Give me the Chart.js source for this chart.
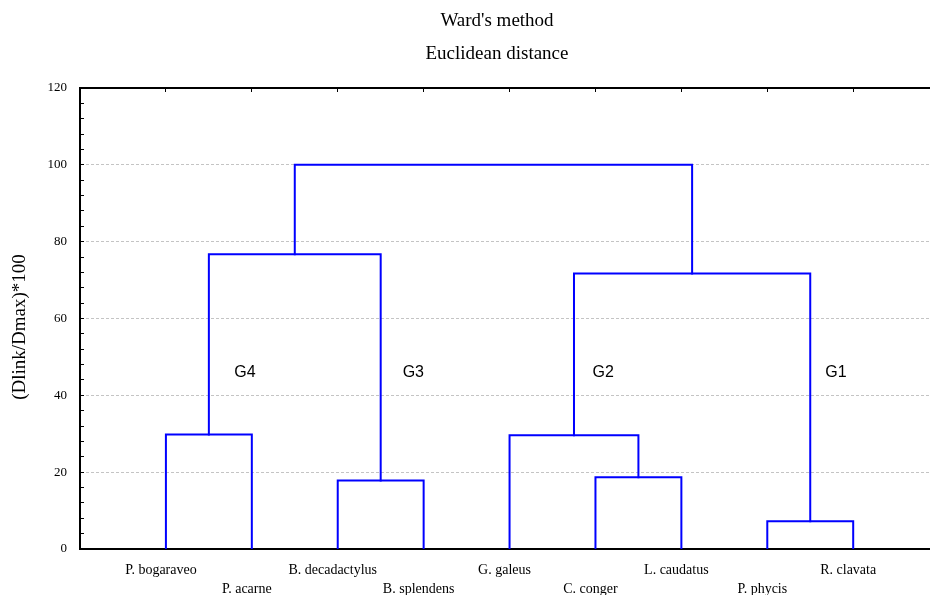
<!DOCTYPE html>
<html><head><meta charset="utf-8">
<script src="https://cdn.jsdelivr.net/npm/chart.js@4.4.1/dist/chart.umd.min.js"></script>
<style>html,body{margin:0;padding:0;background:#fff;}#wrap{width:930px;height:595px;}</style>
</head><body><div id="wrap"><canvas id="c" width="930" height="595"></canvas></div>
<script>
// ---- data ----
const leafLabels = ['P. bogaraveo','P. acarne','B. decadactylus','B. splendens','G. galeus','C. conger','L. caudatus','P. phycis','R. clavata'];
// node ids: 0..8 are leaves, 9.. are merges in this order
const mergeLeft   = [0, 2, 5, 4, 7, 9, 12, 14];
const mergeRight  = [1, 3, 6, 11, 8, 10, 13, 15];
const mergeHeight = [29.8, 17.8, 18.7, 29.6, 7.2, 76.7, 71.7, 100];
const groupNames = ['G4','G3','G2','G1'];
const groupX = [1.92, 3.88, 6.09, 8.80];
const groupY = [46, 46, 46, 46];
const yMajorTicks = [0, 20, 40, 60, 80, 100, 120];
const yMinorStep = 4;
const titleLines = ["Ward's method", 'Euclidean distance'];
const yAxisTitle = '(Dlink/Dmax)*100';

// ---- build dendrogram segments ----
const nLeaf = leafLabels.length;
const pos = [], hgt = [];
for (let i = 0; i < nLeaf; i++) { pos.push(i + 1); hgt.push(0); }
const datasets = [];
mergeHeight.forEach((h, k) => {
  const l = mergeLeft[k], r = mergeRight[k];
  const pl = pos[l], pr = pos[r];
  datasets.push({
    data: [{x: pl, y: hgt[l]}, {x: pl, y: h}, {x: pr, y: h}, {x: pr, y: hgt[r]}],
    borderColor: '#0000ff', borderWidth: 2, pointRadius: 0, tension: 0, fill: false,
    borderCapStyle: 'square', borderJoinStyle: 'miter'
  });
  pos.push((pl + pr) / 2); hgt.push(h);
});

const leafTicks = s => { s.ticks = leafLabels.map((_, i) => ({value: i + 1})); };

const textPlugin = {
  id: 'texts',
  afterDraw(chart) {
    const ctx = chart.ctx, xs = chart.scales.x, ys = chart.scales.y;
    ctx.save();
    ctx.fillStyle = '#000';
    ctx.textAlign = 'center';
    ctx.textBaseline = 'middle';
    ctx.font = '19px "Liberation Serif"';
    ctx.fillText(titleLines[0], 497, 21);
    ctx.fillText(titleLines[1], 497, 54);
    ctx.font = '16px "Liberation Sans"';
    groupNames.forEach((g, i) => {
      ctx.fillText(g, xs.getPixelForValue(groupX[i]), ys.getPixelForValue(groupY[i]));
    });
    ctx.font = '19px "Liberation Serif"';
    ctx.translate(20, 327);
    ctx.rotate(-Math.PI / 2);
    ctx.fillText(yAxisTitle, 0, 0);
    ctx.restore();
  }
};

new Chart(document.getElementById('c'), {
  type: 'line',
  data: { datasets },
  plugins: [textPlugin],
  options: {
    responsive: false, animation: false, devicePixelRatio: 1,
    layout: { padding: { top: 88, right: 0, left: 0, bottom: 0 } },
    plugins: { legend: { display: false }, tooltip: { enabled: false }, title: { display: false } },
    scales: {
      x: {
        type: 'linear', position: 'bottom', min: 0, max: 9.894,
        afterBuildTicks: leafTicks,
        afterFit: s => { s.height = 46; },
        grid: { display: false },
        border: { display: true, color: '#000', width: 2 },
        ticks: {
          autoSkip: false, maxRotation: 0, minRotation: 0, padding: 4, labelOffset: -5,
          color: '#000', font: { family: '"Liberation Serif"', size: 14, lineHeight: 1.36 },
          callback: v => { const i = Math.round(v) - 1; const t = leafLabels[i] || ''; return i % 2 === 0 ? [t, ''] : ['', t]; }
        }
      },
      x2: {
        type: 'linear', position: 'top', min: 0, max: 9.894,
        afterBuildTicks: leafTicks,
        afterFit: s => { s.height = 0; },
        grid: { display: true, drawOnChartArea: false, drawTicks: true, tickLength: -4, color: '#000', tickColor: '#000', tickWidth: 1 },
        border: { display: true, color: '#000', width: 2 },
        ticks: { display: false }
      },
      y: {
        type: 'linear', position: 'left', min: 0, max: 120,
        afterBuildTicks: s => { const t = []; for (let v = 0; v <= 120; v += yMinorStep) t.push({value: v}); s.ticks = t; },
        afterFit: s => { s.width = 80; },
        grid: {
          display: true, drawOnChartArea: true, drawTicks: true, tickLength: -4,
          color: c => (c.tick && c.tick.value % 20 === 0 && c.tick.value > 0 && c.tick.value < 120) ? '#c4c4c4' : 'rgba(0,0,0,0)',
          tickColor: '#000', tickWidth: 1, tickBorderDash: [], lineWidth: 1
        },
        border: { display: true, color: '#000', width: 2, dash: [3, 2] },
        ticks: {
          autoSkip: false, padding: 17, color: '#000',
          font: { family: '"Liberation Serif"', size: 13 },
          callback: v => yMajorTicks.includes(v) ? String(v) : ''
        }
      }
    }
  }
});
</script></body></html>
